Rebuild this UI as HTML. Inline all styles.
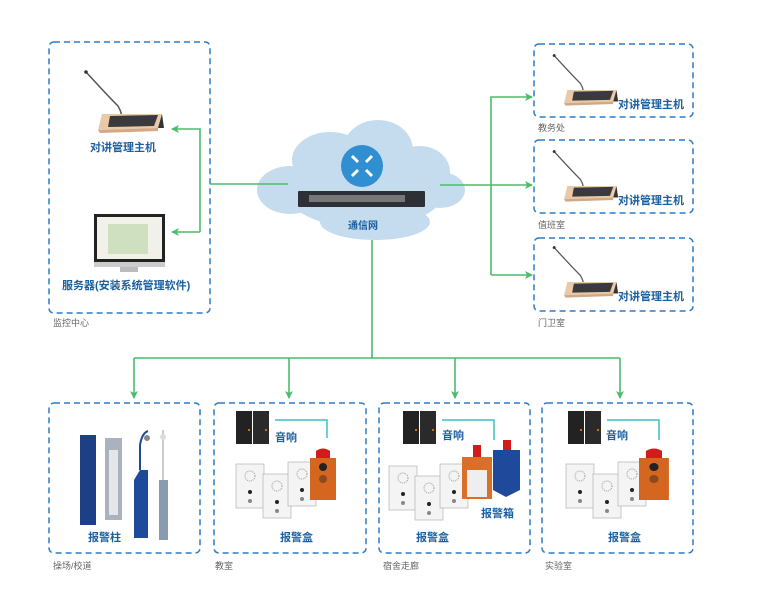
<!DOCTYPE html>
<html><head><meta charset="utf-8"><style>
body{margin:0;background:#fff;}
svg{display:block;font-family:"Liberation Sans","Noto Sans CJK SC",sans-serif;}
.lb{fill:#1b5f9f;font-size:11px;font-weight:bold;}
.gl{fill:#666;font-size:9px;}
.box{fill:none;stroke:#2f7cc6;stroke-width:1.5;stroke-dasharray:6,4;}
.g{stroke:#4cbb6c;stroke-width:1.6;fill:none;}
</style></head><body>
<svg width="758" height="593" viewBox="0 0 758 593">
<defs>
<marker id="ah" markerWidth="8" markerHeight="8" refX="7" refY="4" orient="auto" markerUnits="userSpaceOnUse"><path d="M0,0 L8,4 L0,8 L2,4z" fill="#4cbb6c"/></marker>
<g id="host">
<path d="M-12,-42 Q10,-18 20,-8 Q25,0 24,10" stroke="#555" stroke-width="1.5" fill="none"/>
<circle cx="-12" cy="-42" r="1.8" fill="#333"/>
<path d="M4,0 L64,0 L60,14 L0,16z" fill="#e8c9a8"/>
<path d="M12,2 L60,1 L56,12 L10,13z" fill="#3a3a3a"/>
<path d="M60,14 L64,0 L66,14z" fill="#333"/>
<path d="M0,16 L60,14 L60,17 L2,19z" fill="#d4a884"/>
</g>
<g id="spk">
<rect x="0" y="0" width="16" height="33" fill="#222"/><rect x="17" y="0" width="16" height="33" fill="#2a2a2a"/>
<rect x="12" y="18" width="2" height="2" fill="#d60"/><rect x="29" y="18" width="2" height="2" fill="#d60"/>
</g>
<g id="panel">
<rect width="28" height="44" fill="#f4f4f4" stroke="#bbb" stroke-width="0.8"/>
<circle cx="14" cy="12" r="5" fill="none" stroke="#999" stroke-dasharray="1,1"/>
<circle cx="14" cy="28" r="2" fill="#222"/><circle cx="14" cy="37" r="2" fill="#888"/>
</g>
<g id="org">
<rect x="0" y="10" width="26" height="42" fill="#d4661f"/>
<path d="M6,10 L6,3 Q13,-2 20,3 L20,10z" fill="#d21c1c"/>
<circle cx="13" cy="19" r="4" fill="#222"/><circle cx="13" cy="31" r="4" fill="#8a4a20"/>
</g>
</defs>

<!-- boxes -->
<rect class="box" x="49" y="42" width="161" height="271" rx="5"/>
<rect class="box" x="534" y="44" width="159" height="73" rx="5"/>
<rect class="box" x="534" y="140" width="159" height="73" rx="5"/>
<rect class="box" x="534" y="238" width="159" height="73" rx="5"/>
<rect class="box" x="49" y="403" width="151" height="150" rx="5"/>
<rect class="box" x="214" y="403" width="152" height="150" rx="5"/>
<rect class="box" x="379" y="403" width="151" height="150" rx="5"/>
<rect class="box" x="542" y="403" width="151" height="150" rx="5"/>

<text class="gl" x="53" y="326">监控中心</text>
<text class="gl" x="538" y="131">教务处</text>
<text class="gl" x="538" y="228">值班室</text>
<text class="gl" x="538" y="326">门卫室</text>
<text class="gl" x="53" y="569">操场/校道</text>
<text class="gl" x="215" y="569">教室</text>
<text class="gl" x="383" y="569">宿舍走廊</text>
<text class="gl" x="545" y="569">实验室</text>

<!-- cloud -->
<g fill="#c5dcef">
<ellipse cx="365" cy="190" rx="80" ry="38"/>
<ellipse cx="290" cy="190" rx="33" ry="24"/>
<ellipse cx="330" cy="160" rx="38" ry="28"/>
<ellipse cx="378" cy="150" rx="35" ry="30"/>
<ellipse cx="420" cy="172" rx="30" ry="26"/>
<ellipse cx="440" cy="190" rx="25" ry="18"/>
<ellipse cx="375" cy="222" rx="55" ry="18"/>
</g>
<circle cx="362" cy="166" r="21" fill="#2f8fd0"/>
<g stroke="#fff" stroke-width="3" fill="none">
<path d="M352,156 L358,162 M372,156 L366,162 M352,176 L358,170 M372,176 L366,170"/>
</g>
<rect x="298" y="191" width="127" height="16" rx="1" fill="#2d3036"/>
<rect x="309" y="195" width="96" height="7" fill="#777"/>
<text class="lb" x="348" y="229" style="font-size:10px">通信网</text>

<!-- connectors -->
<path class="g" d="M210,184 L288,184"/>
<path class="g" d="M200,232 L200,129 L172,129" marker-end="url(#ah)"/>
<path class="g" d="M200,232 L172,232" marker-end="url(#ah)"/>
<path class="g" d="M440,185 L532,185" marker-end="url(#ah)"/>
<path class="g" d="M491,275 L491,97 L532,97" marker-end="url(#ah)"/>
<path class="g" d="M491,275 L532,275" marker-end="url(#ah)"/>
<path class="g" d="M372,240 L372,358"/>
<path class="g" d="M134,358 L620,358"/>
<path class="g" d="M134,358 L134,398" marker-end="url(#ah)"/>
<path class="g" d="M289,358 L289,398" marker-end="url(#ah)"/>
<path class="g" d="M455,358 L455,398" marker-end="url(#ah)"/>
<path class="g" d="M620,358 L620,398" marker-end="url(#ah)"/>

<!-- left box content -->
<use href="#host" transform="translate(98,114)"/>
<text class="lb" x="90" y="151">对讲管理主机</text>
<rect x="94" y="214" width="71" height="52" fill="#222"/>
<rect x="97" y="217" width="65" height="42" fill="#f1f1ea"/>
<rect x="108" y="224" width="40" height="30" fill="#cfe0c0"/>
<rect x="94" y="262" width="71" height="5" fill="#ccc"/>
<rect x="120" y="267" width="18" height="5" fill="#bbb"/>
<text class="lb" x="62" y="289">服务器(安装系统管理软件)</text>

<!-- right hosts -->
<use href="#host" transform="translate(564,90) scale(0.82)"/>
<text class="lb" x="618" y="108">对讲管理主机</text>
<use href="#host" transform="translate(564,186) scale(0.82)"/>
<text class="lb" x="618" y="204">对讲管理主机</text>
<use href="#host" transform="translate(564,282) scale(0.82)"/>
<text class="lb" x="618" y="300">对讲管理主机</text>

<!-- box 1 pillars -->
<rect x="80" y="435" width="16" height="90" fill="#1d3f86"/>
<rect x="105" y="438" width="17" height="82" fill="#aab2c0"/>
<rect x="109" y="450" width="9" height="65" fill="#e4e6ea"/>
<path d="M134,538 L134,480 L140,470 L148,470 L148,538z" fill="#1f4a9c"/>
<path d="M140,470 L140,445 Q142,433 148,431" stroke="#1f4a9c" stroke-width="2" fill="none"/>
<circle cx="147" cy="438" r="3" fill="#888"/>
<rect x="159" y="480" width="9" height="60" fill="#8a9ab0"/>
<rect x="162" y="430" width="2" height="50" fill="#ccc"/>
<circle cx="163" cy="437" r="3" fill="#ddd"/>
<text class="lb" x="88" y="541">报警柱</text>

<!-- box 2 -->
<use href="#spk" transform="translate(236,411)"/>
<path d="M275,420 L327,420 L327,438" stroke="#3cc0c6" stroke-width="1.5" fill="none"/>
<text class="lb" x="275" y="441">音响</text>
<use href="#panel" transform="translate(236,464)"/>
<use href="#panel" transform="translate(263,474)"/>
<use href="#panel" transform="translate(288,462)"/>
<use href="#org" transform="translate(310,448)"/>
<text class="lb" x="280" y="541">报警盒</text>

<!-- box 3 -->
<use href="#spk" transform="translate(403,411)"/>
<path d="M442,420 L494,420 L494,440" stroke="#3cc0c6" stroke-width="1.5" fill="none"/>
<text class="lb" x="442" y="439">音响</text>
<use href="#panel" transform="translate(389,466)"/>
<use href="#panel" transform="translate(415,476)"/>
<use href="#panel" transform="translate(440,464)"/>
<rect x="462" y="457" width="30" height="42" fill="#d8702a"/><rect x="467" y="470" width="20" height="27" fill="#eee"/>
<rect x="473" y="445" width="8" height="12" fill="#d21c1c"/>
<path d="M493,450 L520,450 L520,490 L506,497 L493,490z" fill="#1f4a9c"/>
<rect x="503" y="440" width="8" height="10" fill="#d21c1c"/>
<text class="lb" x="481" y="517">报警箱</text>
<text class="lb" x="416" y="541">报警盒</text>

<!-- box 4 -->
<use href="#spk" transform="translate(568,411)"/>
<path d="M607,420 L659,420 L659,440" stroke="#3cc0c6" stroke-width="1.5" fill="none"/>
<text class="lb" x="606" y="439">音响</text>
<use href="#panel" transform="translate(566,464)"/>
<use href="#panel" transform="translate(593,474)"/>
<use href="#panel" transform="translate(618,462)"/>
<use href="#org" transform="translate(639,448) scale(1.15,1)"/>
<text class="lb" x="608" y="541">报警盒</text>
</svg>
</body></html>
